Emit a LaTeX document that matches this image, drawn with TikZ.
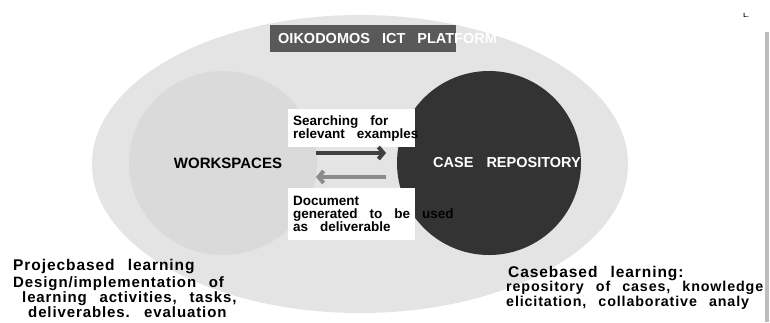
\documentclass[tikz,border=0pt]{standalone}
\usepackage{fontspec}
\usepackage{xcolor}
\usetikzlibrary{arrows.meta,shapes.geometric}
\newfontfamily\lblfont{Liberation Sans}
\newfontfamily\notefont[WordSpace=2.5,LetterSpace=6]{Liberation Sans}
\definecolor{platgray}{HTML}{E4E4E4}
\definecolor{workgray}{HTML}{DADADA}
\definecolor{casegray}{HTML}{333333}
\definecolor{titlegray}{HTML}{595959}
\definecolor{bargray}{HTML}{BDBDBD}

\begin{document}
\begin{tikzpicture}[x=1pt,y=-1pt,
	blob/.style={ellipse,inner sep=0pt},
	tag/.style={inner sep=0pt,font=\lblfont\bfseries\fontsize{14.5}{14.5}\selectfont,
		execute at begin node={\spaceskip=13pt\relax}},
	textbox/.style={fill=white,anchor=north west,text width=117pt,inner sep=5pt,align=left,
		font=\lblfont\bfseries\fontsize{13.5}{13}\selectfont,execute at begin node={\spaceskip=12pt\relax}},
	note/.style={anchor=base west,inner sep=0pt,font=\notefont\bfseries\fontsize{15}{15}\selectfont},
	head/.style={note,font=\notefont\bfseries\fontsize{15.5}{15.5}\selectfont},
	flow/.style={line width=4pt,-{Straight Barb[length=5pt,width=12pt]}}]
	\useasboundingbox (0,0) rectangle (770,322);
	\node[blob,fill=platgray,minimum width=536pt,minimum height=298pt] (platform) at (360,164) {};
	\node[blob,fill=workgray,minimum width=188pt,minimum height=184pt] (workspaces) at (223,163) {};
	\node[blob,fill=casegray,minimum width=184pt,minimum height=184pt] (repository) at (489,163) {};
	\node[tag,font=\lblfont\bfseries\fontsize{15}{15}\selectfont] (worktext) at (228,163) {WORKSPACES};
	\node[tag,text=white] (reptext) at (507,163) {CASE REPOSITORY};
	\node[tag,fill=titlegray,text=white,anchor=west,minimum height=27pt,text width=186pt,align=left,
		execute at begin node={\spaceskip=12pt\relax}] (title) at (270,38.5) {\hspace*{8pt}\mbox{OIKODOMOS ICT PLATFORM}};
	\node[textbox,minimum height=38pt] (search) at (288,109) {Searching for\\\mbox{relevant examples}};
	\node[textbox,minimum height=52pt] (document) at (288,188) {Document\\\mbox{generated to be used}\\as deliverable};
	\coordinate (fwdstart) at (316,153);
	\coordinate (fwdend) at (386,153);
	\coordinate (backstart) at (386,177);
	\coordinate (backend) at (316,177);
	\draw[flow,draw={rgb,255:red,64;green,64;blue,64}] (fwdstart) -- (fwdend);
	\draw[flow,draw={rgb,255:red,140;green,140;blue,140}] (backstart) -- (backend);
	% bottom notes
	\node[head] (pblhead) at (13,270) {Projecbased learning};
	\foreach \X/\Y/\T [count=\i] in {13/287/{Design/implementation of},22/302/{learning activities, tasks,},
		28/317/{deliverables. evaluation}}
	{\node[note] (pbl\i) at (\X,\Y) {\T};}
	\node[head] (cbhead) at (508,277) {Casebased learning:};
	\foreach \Y/\T [count=\i] in {291/{repository of cases, knowledge},306/{elicitation, collaborative analy}}
	{\node[note,font=\notefont\bfseries\fontsize{14.3}{14.3}\selectfont] (cbl\i) at (506,\Y) {\T};}
	\fill[bargray] (765,32) rectangle (769,322);
	\fill[white] (769,0) rectangle (770,322);
	\node[inner sep=0pt,font=\lblfont\bfseries\fontsize{6}{6}\selectfont] (mark) at (746,15) {L.};
\end{tikzpicture}
\end{document}
